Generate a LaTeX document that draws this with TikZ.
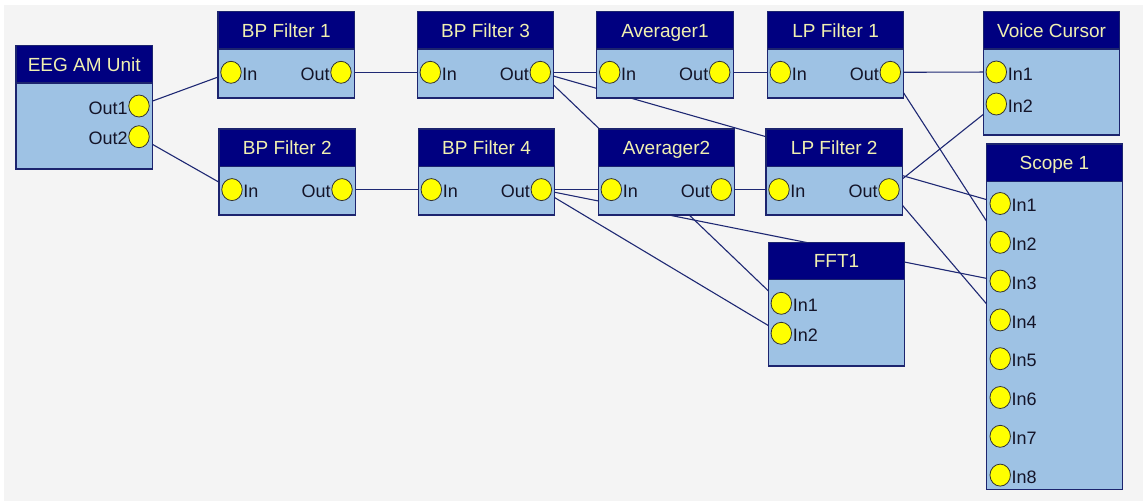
\documentclass[tikz,border=0pt]{standalone}
\usepackage{fontspec}
\setmainfont{Liberation Sans}
\usetikzlibrary{calc,backgrounds,shapes.geometric}

\definecolor{hdrblue}{RGB}{0,0,128}
\definecolor{bodyblue}{RGB}{158,194,228}
\definecolor{edgeblue}{RGB}{28,36,110}
\definecolor{wireblue}{RGB}{30,40,115}
\definecolor{titlecol}{RGB}{240,240,176}
\definecolor{portfill}{RGB}{255,255,0}
\definecolor{canvas}{RGB}{244,244,244}
\definecolor{labcol}{RGB}{20,20,40}

\tikzset{
  modbody/.style={rectangle, draw=edgeblue, fill=bodyblue, line width=1.1pt,
    minimum width=136.5pt, inner sep=0pt, outer sep=0pt},
  modhead/.style={rectangle, draw=edgeblue, fill=hdrblue, line width=1.1pt,
    minimum width=136.5pt, minimum height=37.3pt, inner sep=0pt, outer sep=0pt,
    text=titlecol, font=\fontsize{19}{19}\selectfont, text height=13.6pt, text depth=0pt},
  port/.style={ellipse, draw=black!80, fill=portfill, line width=0.8pt,
    minimum width=20.5pt, minimum height=22pt, inner sep=0pt},
  portlab/.style={font=\fontsize{18}{18}\selectfont, text=labcol, inner sep=0.6pt, yshift=-2pt},
  inport/.style={port, label={[portlab]right:#1}},
  outport/.style={port, label={[portlab]left:#1}},
  wire/.style={draw=wireblue, line width=1.1pt},
}

% module: name, left, top, total height, title
\newcommand\modbox[5]{%
  \node[modbody, minimum height=#4pt, anchor=north west] (#1) at (#2,#3) {};
  \node[modhead, anchor=north west] (#1-t) at (#2,#3) {#5};}
% standard one-in / one-out filter ports
\newcommand\inout[1]{%
  \node[inport=In] (#1-in) at ($(#1.north west)+(13,60.6)$) {};
  \node[outport=Out] (#1-out) at ($(#1.north east)+(-13.5,60.6)$) {};}

\begin{document}
\begin{tikzpicture}[x=1pt, y=-1pt]
\useasboundingbox (0,0) rectangle (1143,501);

% modules
\modbox{eeg}{16}{45.7}{123.3}{EEG AM Unit}
\modbox{bp1}{218}{11.7}{86.3}{BP Filter 1}
\modbox{bp2}{219}{129}{86}{BP Filter 2}
\modbox{bp3}{417.3}{11.7}{86.3}{BP Filter 3}
\modbox{bp4}{418.3}{129}{86}{BP Filter 4}
\modbox{av1}{596.7}{11.7}{86.3}{Averager1}
\modbox{av2}{598.3}{129}{86}{Averager2}
\modbox{lp1}{767.3}{11.7}{86.3}{LP Filter 1}
\modbox{lp2}{766}{129}{86}{LP Filter 2}
\modbox{vc}{983.3}{11.7}{123.3}{Voice Cursor}
\modbox{sc}{986.2}{144}{345.3}{Scope 1}
\modbox{fft}{768.3}{242.3}{123.7}{FFT1}

% ports
\node[outport=Out1] (eeg-o1) at ($(eeg.north east)+(-13.5,60.3)$) {};
\node[outport=Out2] (eeg-o2) at ($(eeg.north east)+(-13.5,91)$) {};
\inout{bp1}
\inout{bp2}
\inout{bp3}
\inout{bp4}
\inout{av1}
\inout{av2}
\inout{lp1}
\inout{lp2}
\node[inport=In1] (vc-in1) at ($(vc.north west)+(13,60.3)$) {};
\node[inport=In2] (vc-in2) at ($(vc.north west)+(13,92.3)$) {};
\node[inport=In1] (fft-in1) at ($(fft.north west)+(13,61)$) {};
\node[inport=In2] (fft-in2) at ($(fft.north west)+(13,91)$) {};
\foreach \i in {1,...,8}
  \node[inport=In\i] (sc-in\i) at ($(sc.north west)+(14,{59.5+38.8*(\i-1)})$) {};

% canvas and wiring, beneath the modules
\begin{pgfonlayer}{background}
  \fill[white] (0,0) rectangle (1143,501);
  \fill[canvas] (4,5) rectangle (1143,501);
  \draw[wire] (eeg-o1.center) -- (bp1-in.center);
  \draw[wire] (eeg-o2.center) -- (bp2-in.center);
  \draw[wire] (bp1-out.center) -- (bp3-in.center);
  \draw[wire] (bp2-out.center) -- (bp4-in.center);
  \draw[wire] (bp3-out.center) -- (av1-in.center);
  \draw[wire] (bp3-out.center) -- (sc-in1.center);
  \draw[wire] (bp3-out.center) -- (fft-in1.center);
  \draw[wire] (bp4-out.center) -- (av2-in.center);
  \draw[wire] (bp4-out.center) -- (sc-in3.center);
  \draw[wire] (bp4-out.center) -- (fft-in2.center);
  \draw[wire] (av1-out.center) -- (lp1-in.center);
  \draw[wire] (av2-out.center) -- (lp2-in.center);
  \draw[wire] (lp1-out.center) -- (vc-in1.center);
  \draw[wire] (lp1-out.center) -- (sc-in2.center);
  \draw[wire] (lp2-out.center) -- (vc-in2.center);
  \draw[wire] (lp2-out.center) -- (sc-in4.center);
\end{pgfonlayer}
\end{tikzpicture}
\end{document}
